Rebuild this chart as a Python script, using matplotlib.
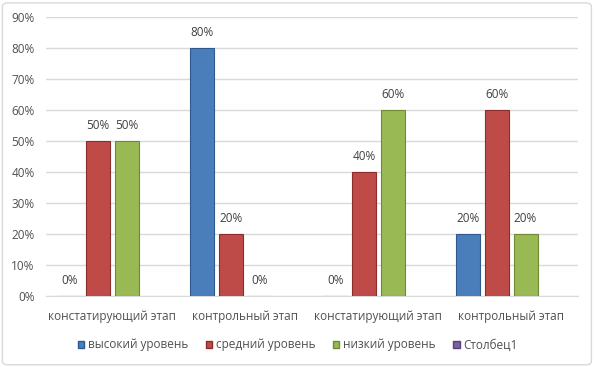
import numpy as np
import matplotlib
matplotlib.use("Agg")
from matplotlib import pyplot as plt
from matplotlib.patches import FancyBboxPatch

categories = ["констатирующий этап", "контрольный этап", "констатирующий этап", "контрольный этап"]
series_names = ["высокий уровень", "средний уровень", "низкий уровень", "Столбец1"]
high = [0, 80, 0, 20]
mid = [50, 20, 40, 60]
low = [50, 0, 60, 20]
col1 = [None, None, None, None]
yticks = [0, 10, 20, 30, 40, 50, 60, 70, 80, 90]

colors = ["#4A7EBB", "#BE4B48", "#98B954", "#7D60A0"]
edges = ["#2F5A8F", "#8C2D2B", "#6E8A35", "#5A4078"]
text_c = "#505050"

plt.rcParams['font.family'] = ['Open Sans', 'DejaVu Sans']

fig = plt.figure(figsize=(5.95, 3.67), dpi=100)
ax = fig.add_axes([0.077, 0.193, 0.894, 0.761])

x = np.arange(len(categories))
w = 0.18
step = 0.215
for i, (vals, c, ec) in enumerate(zip([high, mid, low, col1], colors, edges)):
    pos = x + (i - 1.5) * step
    if vals[0] is None:
        continue
    ax.bar(pos, vals, w, color=c, edgecolor=ec, linewidth=0.8, zorder=3)
    for p, v in zip(pos, vals):
        ax.text(p, v + 2.8, f"{v}%", ha="center", va="bottom", fontsize=8.5, color="#404040")

ax.set_ylim(0, 90)
ax.set_xlim(-0.5, 3.5)
ax.set_yticks(yticks)
ax.set_yticklabels([f"{t}%" for t in yticks], fontsize=8.5, color=text_c)
ax.set_xticks(x)
ax.set_xticklabels(categories, fontsize=8.5, color=text_c)
ax.tick_params(axis="x", length=0, pad=10)
ax.tick_params(axis="y", length=0, pad=8)
ax.grid(axis="y", color="#D9D9D9", linewidth=1, zorder=0)
for s in ["top", "right", "left"]:
    ax.spines[s].set_visible(False)
ax.spines["bottom"].set_color("#D9D9D9")

handles = [plt.Rectangle((0, 0), 1, 1, color=c, ec=ec) for c, ec in zip(colors, edges)]
fig.legend(handles, series_names, loc="center", bbox_to_anchor=(0.5, 0.06), ncol=4,
           frameon=False, fontsize=8.5, handlelength=0.55, handleheight=0.55,
           handletextpad=0.3, columnspacing=1.5, labelcolor=text_c)

border = FancyBboxPatch((0.004, 0.006), 0.99, 0.986, boxstyle="round,pad=0,rounding_size=0.01",
                        transform=fig.transFigure, fill=False, ec="#D9D9D9", lw=1)
fig.patches.append(border)

fig.savefig("out.png", dpi=100)
